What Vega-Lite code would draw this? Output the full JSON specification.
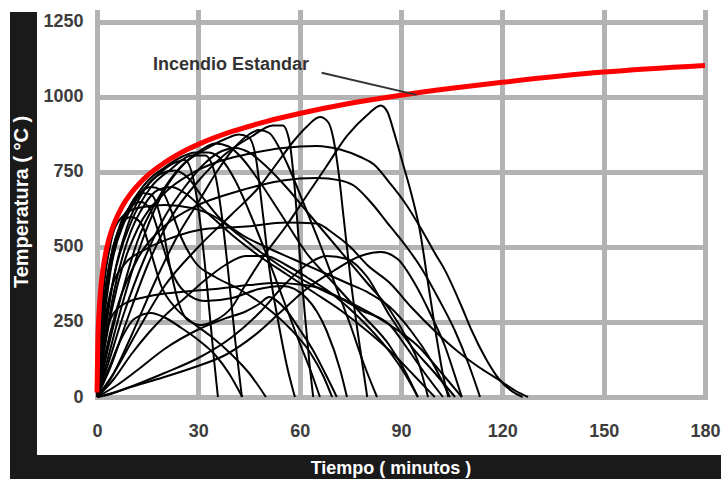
{
  "$schema": "https://vega.github.io/schema/vega-lite/v6.json",
  "background": "white",
  "padding": {"left": 10, "top": 12, "right": 0, "bottom": 0},
  "autosize": {"type": "pad"},
  "config": {"view": {"stroke": null}},
  "datasets": {
    "iso": [
      {"t":0,"T":15},{"t":0.25,"T":185},{"t":0.5,"T":261},{"t":1,"T":349},{"t":1.5,"T":404},{"t":2,"T":444},{"t":3,"T":502},{"t":4,"T":544},{"t":5,"T":576},{"t":7.5,"T":636},{"t":10,"T":678},{"t":15,"T":739},{"t":20,"T":781},{"t":25,"T":815},{"t":30,"T":842},{"t":40,"T":885},{"t":50,"T":918},{"t":60,"T":945},{"t":75,"T":979},{"t":90,"T":1006},{"t":105,"T":1029},{"t":120,"T":1049},{"t":150,"T":1083},{"t":180,"T":1105}
    ],
    "fires": [
      {"id":"A","t":0,"T":0},{"id":"A","t":1.5,"T":220},{"id":"A","t":4,"T":430},{"id":"A","t":8,"T":580},{"id":"A","t":13,"T":680},{"id":"A","t":18,"T":740},{"id":"A","t":22,"T":775},{"id":"A","t":26,"T":790},{"id":"A","t":29,"T":700},{"id":"A","t":31,"T":540},{"id":"A","t":33,"T":320},{"id":"A","t":34.5,"T":140},{"id":"A","t":35.8,"T":0},
      {"id":"B","t":0,"T":0},{"id":"B","t":2,"T":200},{"id":"B","t":5,"T":400},{"id":"B","t":10,"T":580},{"id":"B","t":16,"T":700},{"id":"B","t":22,"T":760},{"id":"B","t":28,"T":805},{"id":"B","t":32,"T":805},{"id":"B","t":35,"T":740},{"id":"B","t":37,"T":600},{"id":"B","t":39,"T":400},{"id":"B","t":41,"T":180},{"id":"B","t":42.9,"T":0},
      {"id":"C","t":0,"T":0},{"id":"C","t":3,"T":150},{"id":"C","t":7,"T":330},{"id":"C","t":12,"T":520},{"id":"C","t":18,"T":660},{"id":"C","t":25,"T":770},{"id":"C","t":32,"T":825},{"id":"C","t":38,"T":860},{"id":"C","t":42,"T":875},{"id":"C","t":45,"T":865},{"id":"C","t":47,"T":800},{"id":"C","t":49,"T":620},{"id":"C","t":51,"T":430},{"id":"C","t":54,"T":230},{"id":"C","t":56.5,"T":90},{"id":"C","t":58.6,"T":0},
      {"id":"D","t":0,"T":0},{"id":"D","t":4,"T":100},{"id":"D","t":9,"T":260},{"id":"D","t":15,"T":440},{"id":"D","t":22,"T":600},{"id":"D","t":30,"T":720},{"id":"D","t":38,"T":810},{"id":"D","t":46,"T":870},{"id":"D","t":52,"T":905},{"id":"D","t":55,"T":905},{"id":"D","t":57,"T":850},{"id":"D","t":58.5,"T":700},{"id":"D","t":60,"T":480},{"id":"D","t":61.5,"T":280},{"id":"D","t":63,"T":100},{"id":"D","t":64,"T":0},
      {"id":"E","t":0,"T":0},{"id":"E","t":5,"T":80},{"id":"E","t":12,"T":220},{"id":"E","t":20,"T":370},{"id":"E","t":30,"T":500},{"id":"E","t":40,"T":610},{"id":"E","t":48,"T":700},{"id":"E","t":54,"T":790},{"id":"E","t":58,"T":850},{"id":"E","t":62,"T":900},{"id":"E","t":66,"T":933},{"id":"E","t":68.5,"T":915},{"id":"E","t":70,"T":860},{"id":"E","t":71.5,"T":750},{"id":"E","t":73,"T":600},{"id":"E","t":75,"T":400},{"id":"E","t":77,"T":230},{"id":"E","t":80,"T":0},
      {"id":"F","t":0,"T":0},{"id":"F","t":2,"T":280},{"id":"F","t":5,"T":490},{"id":"F","t":9,"T":620},{"id":"F","t":13,"T":680},{"id":"F","t":16,"T":675},{"id":"F","t":19,"T":590},{"id":"F","t":21.5,"T":440},{"id":"F","t":24,"T":320},{"id":"F","t":27,"T":255},{"id":"F","t":31,"T":240},{"id":"F","t":35,"T":255},{"id":"F","t":40,"T":300},{"id":"F","t":44,"T":375},{"id":"F","t":50,"T":480},{"id":"F","t":56,"T":570},{"id":"F","t":62,"T":670},{"id":"F","t":68,"T":770},{"id":"F","t":74,"T":870},{"id":"F","t":80,"T":940},{"id":"F","t":84,"T":972},{"id":"F","t":86,"T":950},{"id":"F","t":88,"T":880},{"id":"F","t":90.5,"T":780},{"id":"F","t":93,"T":680},{"id":"F","t":95.5,"T":560},{"id":"F","t":98,"T":380},{"id":"F","t":100.5,"T":200},{"id":"F","t":102.5,"T":70},{"id":"F","t":104,"T":0},
      {"id":"G","t":0,"T":0},{"id":"G","t":2,"T":150},{"id":"G","t":6,"T":370},{"id":"G","t":12,"T":560},{"id":"G","t":20,"T":680},{"id":"G","t":28,"T":745},{"id":"G","t":36,"T":785},{"id":"G","t":44,"T":808},{"id":"G","t":55,"T":830},{"id":"G","t":65,"T":837},{"id":"G","t":72,"T":825},{"id":"G","t":78,"T":800},{"id":"G","t":82,"T":775},{"id":"G","t":86.7,"T":713},{"id":"G","t":91,"T":650},{"id":"G","t":96,"T":560},{"id":"G","t":100,"T":480},{"id":"G","t":103,"T":423},{"id":"G","t":108,"T":300},{"id":"G","t":111,"T":220},{"id":"G","t":115,"T":130},{"id":"G","t":119,"T":60},{"id":"G","t":123,"T":18},{"id":"G","t":126,"T":0},
      {"id":"H","t":0,"T":0},{"id":"H","t":2,"T":120},{"id":"H","t":6,"T":300},{"id":"H","t":12,"T":460},{"id":"H","t":20,"T":570},{"id":"H","t":30,"T":640},{"id":"H","t":40,"T":680},{"id":"H","t":48,"T":705},{"id":"H","t":55,"T":722},{"id":"H","t":65,"T":730},{"id":"H","t":72,"T":722},{"id":"H","t":76,"T":705},{"id":"H","t":81,"T":650},{"id":"H","t":86.7,"T":570},{"id":"H","t":91,"T":510},{"id":"H","t":96,"T":430},{"id":"H","t":101,"T":330},{"id":"H","t":106,"T":220},{"id":"H","t":110,"T":110},{"id":"H","t":113.4,"T":0},
      {"id":"I","t":0,"T":0},{"id":"I","t":1.5,"T":180},{"id":"I","t":4,"T":350},{"id":"I","t":8,"T":440},{"id":"I","t":14,"T":490},{"id":"I","t":22,"T":530},{"id":"I","t":32,"T":560},{"id":"I","t":44,"T":568},{"id":"I","t":56,"T":582},{"id":"I","t":65,"T":578},{"id":"I","t":70,"T":545},{"id":"I","t":75,"T":500},{"id":"I","t":80,"T":440},{"id":"I","t":86.7,"T":380},{"id":"I","t":93,"T":300},{"id":"I","t":100,"T":220},{"id":"I","t":107,"T":150},{"id":"I","t":113,"T":100},{"id":"I","t":119,"T":57},{"id":"I","t":124,"T":20},{"id":"I","t":127.6,"T":0},
      {"id":"J","t":0,"T":0},{"id":"J","t":1.5,"T":150},{"id":"J","t":4,"T":260},{"id":"J","t":8,"T":310},{"id":"J","t":15,"T":335},{"id":"J","t":25,"T":350},{"id":"J","t":35,"T":360},{"id":"J","t":45,"T":373},{"id":"J","t":53,"T":380},{"id":"J","t":60,"T":375},{"id":"J","t":66,"T":362},{"id":"J","t":72,"T":330},{"id":"J","t":78,"T":290},{"id":"J","t":86.7,"T":240},{"id":"J","t":92,"T":160},{"id":"J","t":97,"T":80},{"id":"J","t":102.4,"T":0},
      {"id":"K","t":0,"T":0},{"id":"K","t":6,"T":40},{"id":"K","t":12,"T":90},{"id":"K","t":20,"T":160},{"id":"K","t":30,"T":225},{"id":"K","t":38,"T":262},{"id":"K","t":44,"T":285},{"id":"K","t":48,"T":310},{"id":"K","t":51,"T":333},{"id":"K","t":53.5,"T":318},{"id":"K","t":56,"T":290},{"id":"K","t":60,"T":225},{"id":"K","t":64,"T":155},{"id":"K","t":67.5,"T":80},{"id":"K","t":71,"T":0},
      {"id":"L","t":0,"T":0},{"id":"L","t":5,"T":15},{"id":"L","t":9,"T":30},{"id":"L","t":18,"T":60},{"id":"L","t":29,"T":100},{"id":"L","t":38,"T":140},{"id":"L","t":46.8,"T":207},{"id":"L","t":55,"T":290},{"id":"L","t":62,"T":360},{"id":"L","t":70,"T":420},{"id":"L","t":78,"T":470},{"id":"L","t":84,"T":483},{"id":"L","t":89,"T":460},{"id":"L","t":94,"T":380},{"id":"L","t":99,"T":270},{"id":"L","t":103,"T":170},{"id":"L","t":106,"T":70},{"id":"L","t":108,"T":0},
      {"id":"M","t":0,"T":0},{"id":"M","t":1.5,"T":200},{"id":"M","t":4,"T":420},{"id":"M","t":8,"T":590},{"id":"M","t":12,"T":670},{"id":"M","t":16,"T":700},{"id":"M","t":19,"T":690},{"id":"M","t":22,"T":620},{"id":"M","t":25,"T":530},{"id":"M","t":29,"T":450},{"id":"M","t":35,"T":400},{"id":"M","t":42,"T":360},{"id":"M","t":50,"T":300},{"id":"M","t":57,"T":230},{"id":"M","t":63,"T":150},{"id":"M","t":67,"T":70},{"id":"M","t":69.6,"T":0},
      {"id":"N","t":0,"T":0},{"id":"N","t":1.5,"T":230},{"id":"N","t":4,"T":450},{"id":"N","t":7,"T":580},{"id":"N","t":10,"T":635},{"id":"N","t":13,"T":650},{"id":"N","t":16,"T":620},{"id":"N","t":19,"T":520},{"id":"N","t":22,"T":420},{"id":"N","t":26,"T":350},{"id":"N","t":32,"T":320},{"id":"N","t":40,"T":330},{"id":"N","t":48,"T":360},{"id":"N","t":55,"T":370},{"id":"N","t":62,"T":330},{"id":"N","t":68,"T":220},{"id":"N","t":72,"T":90},{"id":"N","t":74,"T":0},
      {"id":"O","t":0,"T":0},{"id":"O","t":1,"T":200},{"id":"O","t":3,"T":400},{"id":"O","t":6,"T":540},{"id":"O","t":10,"T":640},{"id":"O","t":15,"T":720},{"id":"O","t":20,"T":765},{"id":"O","t":25,"T":800},{"id":"O","t":29,"T":815},{"id":"O","t":33,"T":815},{"id":"O","t":37,"T":790},{"id":"O","t":41,"T":720},{"id":"O","t":45,"T":620},{"id":"O","t":50,"T":480},{"id":"O","t":55,"T":330},{"id":"O","t":60,"T":180},{"id":"O","t":63.5,"T":80},{"id":"O","t":66,"T":0},
      {"id":"P","t":0,"T":0},{"id":"P","t":4,"T":60},{"id":"P","t":10,"T":200},{"id":"P","t":17,"T":380},{"id":"P","t":24,"T":540},{"id":"P","t":30,"T":650},{"id":"P","t":36,"T":760},{"id":"P","t":41,"T":835},{"id":"P","t":45,"T":875},{"id":"P","t":48,"T":890},{"id":"P","t":51,"T":880},{"id":"P","t":54,"T":830},{"id":"P","t":57,"T":760},{"id":"P","t":61,"T":650},{"id":"P","t":66,"T":510},{"id":"P","t":71,"T":360},{"id":"P","t":75,"T":240},{"id":"P","t":79,"T":110},{"id":"P","t":82.9,"T":0},
      {"id":"Q","t":0,"T":0},{"id":"Q","t":3,"T":120},{"id":"Q","t":8,"T":330},{"id":"Q","t":14,"T":540},{"id":"Q","t":20,"T":690},{"id":"Q","t":26,"T":780},{"id":"Q","t":31,"T":825},{"id":"Q","t":35,"T":845},{"id":"Q","t":39,"T":835},{"id":"Q","t":43,"T":795},{"id":"Q","t":48,"T":720},{"id":"Q","t":55,"T":600},{"id":"Q","t":62,"T":480},{"id":"Q","t":70,"T":380},{"id":"Q","t":78,"T":280},{"id":"Q","t":86.7,"T":170},{"id":"Q","t":91,"T":90},{"id":"Q","t":95,"T":0},
      {"id":"R","t":0,"T":0},{"id":"R","t":2,"T":180},{"id":"R","t":5,"T":400},{"id":"R","t":9,"T":570},{"id":"R","t":14,"T":690},{"id":"R","t":19,"T":745},{"id":"R","t":23,"T":755},{"id":"R","t":27,"T":730},{"id":"R","t":31,"T":670},{"id":"R","t":36,"T":600},{"id":"R","t":43,"T":540},{"id":"R","t":50,"T":500},{"id":"R","t":58,"T":460},{"id":"R","t":66,"T":420},{"id":"R","t":74,"T":380},{"id":"R","t":80,"T":350},{"id":"R","t":86.7,"T":300},{"id":"R","t":93,"T":220},{"id":"R","t":99,"T":120},{"id":"R","t":104.5,"T":0},
      {"id":"S","t":0,"T":0},{"id":"S","t":4,"T":10},{"id":"S","t":9,"T":30},{"id":"S","t":20,"T":80},{"id":"S","t":30,"T":130},{"id":"S","t":40,"T":200},{"id":"S","t":48,"T":280},{"id":"S","t":56,"T":380},{"id":"S","t":62,"T":440},{"id":"S","t":68,"T":470},{"id":"S","t":74,"T":460},{"id":"S","t":80,"T":400},{"id":"S","t":86.7,"T":270},{"id":"S","t":93,"T":170},{"id":"S","t":100,"T":80},{"id":"S","t":106,"T":0},
      {"id":"T","t":0,"T":0},{"id":"T","t":1.5,"T":250},{"id":"T","t":4,"T":460},{"id":"T","t":7,"T":570},{"id":"T","t":10,"T":600},{"id":"T","t":13,"T":580},{"id":"T","t":16,"T":480},{"id":"T","t":19,"T":370},{"id":"T","t":23,"T":300},{"id":"T","t":28,"T":250},{"id":"T","t":34,"T":200},{"id":"T","t":40,"T":140},{"id":"T","t":45,"T":80},{"id":"T","t":50,"T":0},
      {"id":"U","t":0,"T":0},{"id":"U","t":1.5,"T":300},{"id":"U","t":4,"T":510},{"id":"U","t":7,"T":595},{"id":"U","t":12,"T":630},{"id":"U","t":20,"T":640},{"id":"U","t":28,"T":630},{"id":"U","t":35,"T":600},{"id":"U","t":42,"T":540},{"id":"U","t":50,"T":470},{"id":"U","t":58,"T":410},{"id":"U","t":66,"T":360},{"id":"U","t":74,"T":320},{"id":"U","t":86.7,"T":240},{"id":"U","t":95,"T":170},{"id":"U","t":102,"T":80},{"id":"U","t":108,"T":0},
      {"id":"X","t":0,"T":0},{"id":"X","t":2,"T":150},{"id":"X","t":5,"T":350},{"id":"X","t":9,"T":520},{"id":"X","t":14,"T":640},{"id":"X","t":18,"T":690},{"id":"X","t":22,"T":700},{"id":"X","t":26,"T":680},{"id":"X","t":32,"T":620},{"id":"X","t":40,"T":540},{"id":"X","t":48,"T":470},{"id":"X","t":56,"T":410},{"id":"X","t":64,"T":350},{"id":"X","t":72,"T":290},{"id":"X","t":80,"T":220},{"id":"X","t":88,"T":140},{"id":"X","t":94,"T":70},{"id":"X","t":100,"T":0},
      {"id":"Y","t":0,"T":0},{"id":"Y","t":3,"T":100},{"id":"Y","t":8,"T":280},{"id":"Y","t":14,"T":460},{"id":"Y","t":20,"T":600},{"id":"Y","t":26,"T":700},{"id":"Y","t":32,"T":780},{"id":"Y","t":37,"T":820},{"id":"Y","t":41,"T":830},{"id":"Y","t":45,"T":815},{"id":"Y","t":50,"T":770},{"id":"Y","t":56,"T":700},{"id":"Y","t":62,"T":620},{"id":"Y","t":68,"T":540},{"id":"Y","t":74,"T":460},{"id":"Y","t":80,"T":380},{"id":"Y","t":86.7,"T":290},{"id":"Y","t":92,"T":190},{"id":"Y","t":95,"T":120},{"id":"Y","t":98,"T":0},
      {"id":"Z1","t":0,"T":0},{"id":"Z1","t":5,"T":60},{"id":"Z1","t":10,"T":140},{"id":"Z1","t":15,"T":210},{"id":"Z1","t":20,"T":270},{"id":"Z1","t":26,"T":330},{"id":"Z1","t":32,"T":390},{"id":"Z1","t":38,"T":440},{"id":"Z1","t":44,"T":470},{"id":"Z1","t":50,"T":470},{"id":"Z1","t":56,"T":440},{"id":"Z1","t":62,"T":400},{"id":"Z1","t":70,"T":340},{"id":"Z1","t":78,"T":260},{"id":"Z1","t":86,"T":160},{"id":"Z1","t":91,"T":80},{"id":"Z1","t":95,"T":0},
      {"id":"Z2","t":0,"T":0},{"id":"Z2","t":3,"T":80},{"id":"Z2","t":7,"T":190},{"id":"Z2","t":11,"T":260},{"id":"Z2","t":16,"T":280},{"id":"Z2","t":20,"T":265},{"id":"Z2","t":25,"T":230},{"id":"Z2","t":30,"T":190},{"id":"Z2","t":35,"T":140},{"id":"Z2","t":39,"T":80},{"id":"Z2","t":43,"T":0}
    ]
  },
  "spacing": 0,
  "vconcat": [
    {
      "bounds": "flush",
      "spacing": 60,
      "hconcat": [
        {
          "width": 27,
          "height": 443,
          "view": {"fill": "#1a1a1a", "stroke": null},
          "data": {"values": [{"label": "Temperatura ( °C )"}]},
          "mark": {"type": "text", "angle": 270, "font": "Liberation Sans", "fontSize": 20, "fontWeight": "bold", "fill": "white", "baseline": "middle", "align": "center", "dx": 31.5, "dy": -1.5},
          "encoding": {"text": {"field": "label", "type": "nominal"}}
        },
        {
          "width": 608,
          "height": 385,
          "view": {"fill": "white", "stroke": null},
          "encoding": {
            "x": {"field": "t", "type": "quantitative", "scale": {"domain": [0, 180], "nice": false, "zero": false},
              "axis": {"values": [0, 30, 60, 90, 120, 150, 180], "format": "d", "title": null, "grid": true, "gridColor": "#b3b3b3", "gridWidth": 5, "gridCap": "square", "gridOpacity": 1, "domain": false, "ticks": false, "tickSize": 0, "labelPadding": 25, "labelFont": "Liberation Sans", "labelFontSize": 18, "labelFontWeight": "bold", "labelColor": "#3c3c3c", "labelFlush": false, "labelOverlap": false}},
            "y": {"field": "T", "type": "quantitative", "scale": {"domain": [0, 1283.3], "nice": false},
              "axis": {"values": [0, 250, 500, 750, 1000, 1250], "format": "d", "title": null, "grid": true, "gridColor": "#b3b3b3", "gridWidth": 5, "gridCap": "square", "gridOpacity": 1, "domain": false, "ticks": false, "tickSize": 0, "labelPadding": 14, "labelFont": "Liberation Sans", "labelFontSize": 18, "labelFontWeight": "bold", "labelColor": "#3c3c3c", "labelFlush": false, "labelOverlap": false}}
          },
          "layer": [
            {
              "data": {"name": "fires"},
              "mark": {"type": "line", "interpolate": "monotone", "stroke": "black", "strokeWidth": 2},
              "encoding": {"detail": {"field": "id", "type": "nominal"}}
            },
            {
              "data": {"name": "iso"},
              "mark": {"type": "line", "interpolate": "monotone", "stroke": "#ff0000", "strokeWidth": 5}
            },
            {
              "data": {"values": [{"t": 66.5, "T": 1081, "t2": 94.6, "T2": 1007}]},
              "mark": {"type": "rule", "stroke": "#333333", "strokeWidth": 2},
              "encoding": {"x2": {"field": "t2"}, "y2": {"field": "T2"}}
            },
            {
              "data": {"values": [{"t": 16.6, "T": 1107, "label": "Incendio Estandar"}]},
              "mark": {"type": "text", "align": "left", "baseline": "middle", "font": "Liberation Sans", "fontSize": 18, "fontWeight": "bold", "fill": "#333333"},
              "encoding": {"text": {"field": "label", "type": "nominal"}}
            }
          ]
        }
      ]
    },
    {
      "width": 711,
      "height": 24,
      "view": {"fill": "#1a1a1a", "stroke": null},
      "data": {"values": [{"label": "Tiempo ( minutos )"}]},
      "mark": {"type": "text", "font": "Liberation Sans", "fontSize": 18, "fontWeight": "bold", "fill": "white", "baseline": "middle", "align": "center", "dx": 25.5, "dy": 2},
      "encoding": {"text": {"field": "label", "type": "nominal"}}
    }
  ]
}
